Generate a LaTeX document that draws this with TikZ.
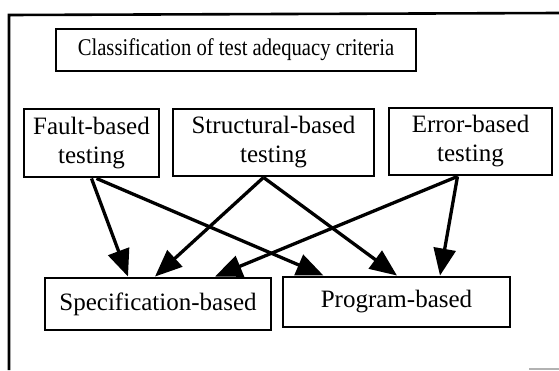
\documentclass[tikz,border=0pt]{standalone}
\usepackage{fontspec}
\setmainfont{Liberation Serif}
\newfontfamily\headfont[FakeStretch=0.86]{Liberation Serif}
\usetikzlibrary{arrows.meta,calc}

\tikzset{
  box/.style={draw, line width=2.9pt, inner sep=0pt, align=center,
    font=\fontsize{25}{29}\selectfont},
  flow/.style={line width=3.3pt, -{Triangle[length=27pt,width=22pt]}},
  frameline/.style={line width=2.6pt}
}

\begin{document}
\begin{tikzpicture}[x=1pt,y=-1pt]
  \useasboundingbox (0,0) rectangle (559,370);

  % open frame: top and left edges only
  \coordinate (ftl) at (9,15);
  \coordinate (ftr) at (559,13);
  \coordinate (fbl) at (9,370);
  \draw[frameline] (ftr) -- (ftl) -- (fbl);
  \coordinate (gl) at (529,369);
  \coordinate (gr) at (559,369);
  \draw[gray!60, line width=1.2pt] (gl) -- (gr);

  % heading
  \node[box, minimum width=360pt, minimum height=42pt,
        font=\headfont\fontsize{24}{28}\selectfont] (title) at (236,50)
        {Classification of test adequacy criteria};

  % upper row
  \node[box, minimum width=135pt, minimum height=68pt] (fault) at (91.5,143)
        {Fault-based\\testing};
  \node[box, minimum width=201pt, minimum height=67pt] (struct) at (273.5,142.5)
        {Structural-based\\testing};
  \node[box, minimum width=163pt, minimum height=67pt] (error) at (470.5,141.5)
        {Error-based\\testing};

  % lower row
  \node[box, minimum width=226pt, minimum height=52pt] (spec) at (158,304)
        {Specification-based};
  \node[box, minimum width=227pt, minimum height=50pt] (prog) at (396.5,302)
        {Program-based};

  % connectors
  \draw[flow] (fault.south) -- ([xshift=-30pt]spec.north);
  \draw[flow] ([xshift=5pt]fault.south) -- ([xshift=-73pt]prog.north);
  \draw[flow] ([xshift=-10pt]struct.south) -- ([xshift=-3pt]spec.north);
  \draw[flow] ([xshift=-10pt]struct.south) -- ([xshift=0.5pt]prog.north);
  \draw[flow] ([xshift=-13pt]error.south) -- ([xshift=57pt]spec.north);
  \draw[flow] ([xshift=-13pt]error.south) -- ([xshift=43.5pt]prog.north);
\end{tikzpicture}
\end{document}
